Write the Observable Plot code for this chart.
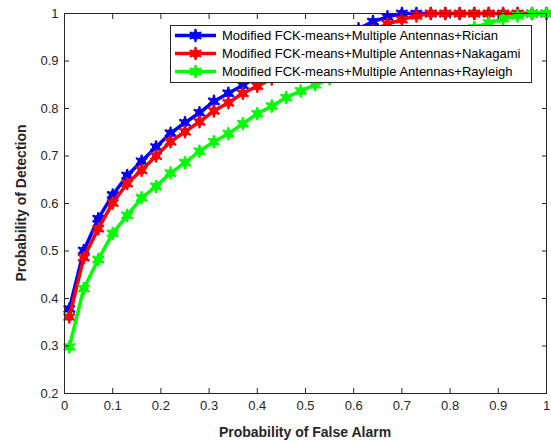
<!DOCTYPE html>
<html>
<head>
<meta charset="utf-8">
<script src="https://cdn.jsdelivr.net/npm/d3@7"></script>
<script src="https://cdn.jsdelivr.net/npm/@observablehq/plot@0.6"></script>
<style>
  html, body { margin: 0; padding: 0; background: #fff; }
  #chart { width: 551px; height: 443px; }
</style>
</head>
<body>
<div id="chart"></div>
<script>
// Probability of false alarm samples
const pfa = [0.01,0.04,0.07,0.10,0.13,0.16,0.19,0.22,0.25,0.28,0.31,0.34,0.37,0.40,0.43,0.46,0.49,0.52,0.55,0.58,0.61,0.64,0.67,0.70,0.73,0.76,0.79,0.82,0.85,0.88,0.91,0.94,0.97,1.00];

const rician   = [0.378,0.501,0.568,0.618,0.659,0.689,0.719,0.748,0.770,0.791,0.815,0.832,0.849,0.866,0.882,0.897,0.911,0.925,0.938,0.953,0.968,0.983,0.993,1.000,1.000,1.000,1.000,1.000,1.000,1.000,1.000,1.000,1.000,1.000];
const nakagami = [0.361,0.486,0.547,0.601,0.642,0.670,0.700,0.730,0.751,0.772,0.795,0.812,0.832,0.847,0.862,0.877,0.891,0.905,0.918,0.931,0.947,0.964,0.978,0.987,0.995,1.000,1.000,1.000,1.000,1.000,1.000,1.000,1.000,1.000];
const rayleigh = [0.298,0.421,0.482,0.537,0.575,0.612,0.636,0.664,0.686,0.710,0.730,0.747,0.768,0.789,0.805,0.823,0.837,0.850,0.862,0.874,0.886,0.898,0.909,0.920,0.930,0.940,0.950,0.960,0.970,0.980,0.989,0.995,1.000,1.000];

const seriesNames = [
  "Modified FCK-means+Multiple Antennas+Rician",
  "Modified FCK-means+Multiple Antennas+Nakagami",
  "Modified FCK-means+Multiple Antennas+Rayleigh"
];
const seriesColors = ["#0000ff", "#ff0000", "#00ff00"];
const seriesValues = [rician, nakagami, rayleigh];

const xTicks = [0,0.1,0.2,0.3,0.4,0.5,0.6,0.7,0.8,0.9,1];
const yTicks = [0.2,0.3,0.4,0.5,0.6,0.7,0.8,0.9,1];
const xLabel = "Probability of False Alarm";
const yLabel = "Probability of Detection";

const fmt = d => String(+d.toFixed(1));

const data = [];
seriesValues.forEach((vals, si) => {
  vals.forEach((v, i) => data.push({series: seriesNames[si], x: pfa[i], y: v}));
});

const seriesMarks = seriesNames.flatMap((name, si) => {
  const d = data.filter(r => r.series === name);
  return [
    Plot.line(d, {x: "x", y: "y", stroke: seriesColors[si], strokeWidth: 3.5}),
    Plot.dot(d, {x: "x", y: "y", fill: seriesColors[si], r: 4.2, stroke: "none"}),
    Plot.dot(d, {x: "x", y: "y", symbol: "asterisk", stroke: seriesColors[si], strokeWidth: 2.5, strokeLinecap: "round", r: 5.2})
  ];
});

const axisColor = "#262626";

const chart = Plot.plot({
  width: 551,
  height: 443,
  marginLeft: 64,
  marginRight: 5,
  marginTop: 13,
  marginBottom: 50,
  style: {fontFamily: "'Liberation Sans', Arial, sans-serif", fontSize: "13px", color: axisColor, background: "#fff"},
  x: {domain: [0, 1]},
  y: {domain: [0.2, 1]},
  marks: [
    ...seriesMarks,
    Plot.axisX(xTicks, {anchor: "bottom", tickSize: -5, tickPadding: 12, tickFormat: fmt, label: null}),
    Plot.axisX(xTicks, {anchor: "top", tickSize: -5, tickFormat: () => "", label: null}),
    Plot.axisY(yTicks, {anchor: "left", tickSize: -5, tickPadding: 11, tickFormat: fmt, label: null}),
    Plot.axisY(yTicks, {anchor: "right", tickSize: -5, tickFormat: () => "", label: null}),
    Plot.frame({stroke: axisColor, strokeWidth: 1})
  ]
});

document.getElementById("chart").appendChild(chart);

const svg = d3.select(chart);
const x0 = 64, x1 = 546, y0 = 13, y1 = 393;

// axis titles
svg.append("text")
  .attr("x", (x0 + x1) / 2).attr("y", 437)
  .attr("text-anchor", "middle")
  .attr("font-weight", "bold").attr("font-size", 14)
  .attr("fill", axisColor)
  .text(xLabel);
svg.append("text")
  .attr("transform", `translate(26,${(y0 + y1) / 2}) rotate(-90)`)
  .attr("text-anchor", "middle")
  .attr("font-weight", "bold").attr("font-size", 14)
  .attr("fill", axisColor)
  .text(yLabel);

// legend
const lg = svg.append("g");
lg.append("rect")
  .attr("x", 170.5).attr("y", 25.5).attr("width", 361).attr("height", 57)
  .attr("fill", "#fff").attr("stroke", axisColor).attr("stroke-width", 1);
const rowY = [35.5, 53.5, 71.5];
const sym = d3.symbol(d3.symbolAsterisk, Math.PI * 5.2 * 5.2);
seriesNames.forEach((name, i) => {
  const g = lg.append("g");
  g.append("line").attr("x1", 175).attr("x2", 216).attr("y1", rowY[i]).attr("y2", rowY[i])
    .attr("stroke", seriesColors[i]).attr("stroke-width", 3.5);
  g.append("circle").attr("cx", 195.5).attr("cy", rowY[i]).attr("r", 4.2).attr("fill", seriesColors[i]);
  g.append("path").attr("d", sym()).attr("transform", `translate(195.5,${rowY[i]})`)
    .attr("fill", "none").attr("stroke", seriesColors[i]).attr("stroke-width", 2.5).attr("stroke-linecap", "round");
  g.append("text").attr("x", 222).attr("y", rowY[i]).attr("dy", "0.35em")
    .attr("text-anchor", "start")
    .attr("font-size", 13).attr("fill", "#000").text(name);
});
</script>
</body>
</html>
